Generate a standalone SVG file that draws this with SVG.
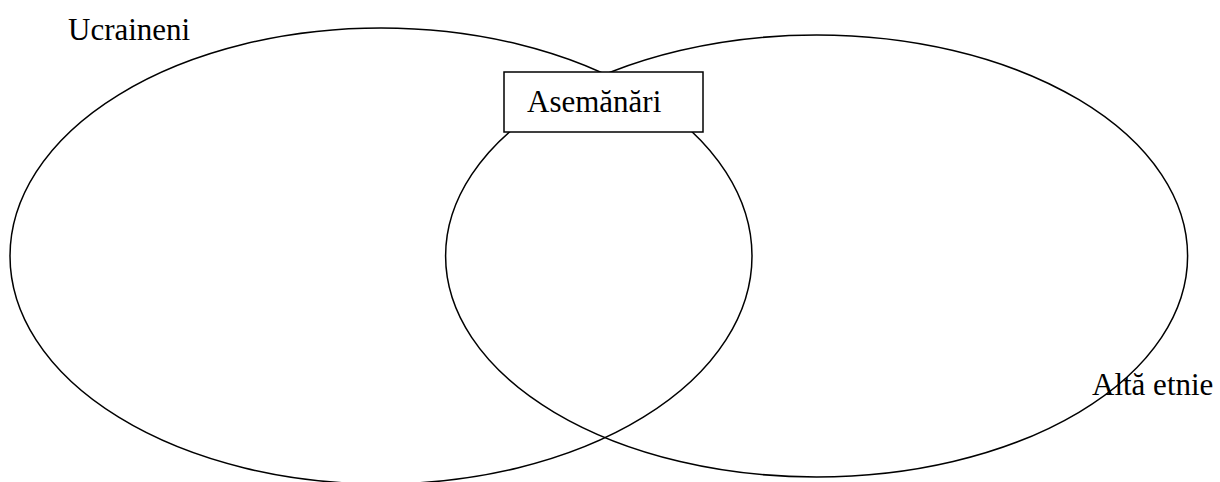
<svg xmlns="http://www.w3.org/2000/svg" width="1220" height="482" viewBox="0 0 1220 482">
<style>
.shape{fill:none;stroke:#000;stroke-width:1.5}
.box{fill:#fff;stroke:#000;stroke-width:1.5}
.lbl{font-family:"Liberation Serif","Times New Roman",serif;font-size:31px;fill:#000}
</style>
<rect width="1220" height="482" fill="#fff"/>
<g id="ucraineni">
<ellipse class="shape" cx="381" cy="256" rx="371" ry="228"/>
<text class="lbl" x="68" y="40">Ucraineni</text>
</g>
<g id="alta-etnie">
<ellipse class="shape" cx="816.6" cy="256" rx="371" ry="221"/>
<text class="lbl" x="1092" y="395">Altă etnie</text>
</g>
<g id="asemanari">
<rect class="box" x="504" y="72" width="199" height="60"/>
<text class="lbl" x="527" y="112">Asemănări</text>
</g>
<g id="connectors"/>
</svg>
